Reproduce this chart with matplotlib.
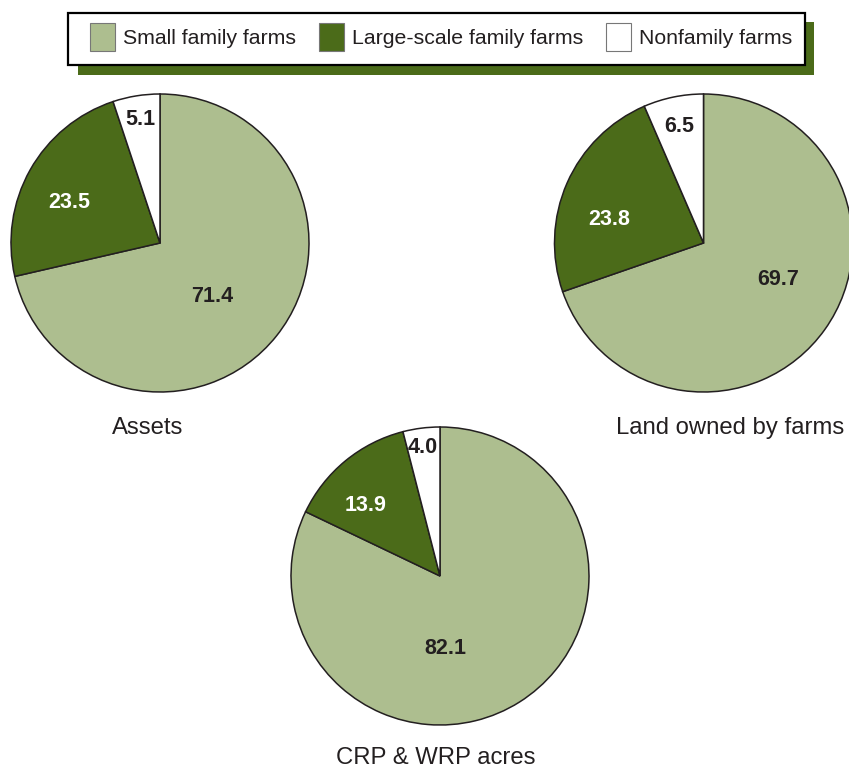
import numpy as np
import matplotlib
matplotlib.use("Agg")
import matplotlib.pyplot as plt
from matplotlib.patches import Rectangle

plt.rcParams['font.family'] = ['Liberation Sans', 'DejaVu Sans']

# ---- data ----
categories = ["Small family farms", "Large-scale family farms", "Nonfamily farms"]
assets = [71.4, 23.5, 5.1]
land = [69.7, 23.8, 6.5]
crp_wrp = [82.1, 13.9, 4.0]
pie_titles = ["Assets", "Land owned by farms", "CRP & WRP acres"]

# ---- styles ----
colors = ["#adbe8f", "#4b6b19", "#ffffff"]
label_colors = ["#231f20", "#ffffff", "#231f20"]
edge = "#231f20"
W, H = 849, 769
R = 149  # pie radius in pixels

# pie centers (px), label radial factor and angle tweak per wedge, title positions (px)
layout = [
    dict(center=(160, 243), rf=[0.50, 0.67, 0.84], dang=[-7.5, 5.3, 0.0], title=(147.5, 428)),
    dict(center=(703.5, 243), rf=[0.56, 0.65, 0.80], dang=[9.5, 10.0, 0.0], title=(730.5, 428)),
    dict(center=(440, 576), rf=[0.49, 0.69, 0.87], dang=[-27.7, 7.0, 0.5], title=(436, 758)),
]

fig = plt.figure(figsize=(W / 100, H / 100), dpi=100)

for vals, title, lay in zip([assets, land, crp_wrp], pie_titles, layout):
    cx, cy = lay["center"]
    ax = fig.add_axes([(cx - R) / W, (H - cy - R) / H, 2 * R / W, 2 * R / H])
    ax.pie(vals, colors=colors, startangle=90, counterclock=False, radius=1,
           wedgeprops=dict(edgecolor=edge, linewidth=1.1))
    ax.set_xlim(-1, 1)
    ax.set_ylim(-1, 1)
    ax.set_aspect("equal")
    ax.axis("off")
    cum = 0.0
    total = sum(vals)
    for i, v in enumerate(vals):
        mid = 90 - (cum + v / 2) / total * 360 + lay["dang"][i]
        cum += v
        r = lay["rf"][i]
        ax.text(r * np.cos(np.radians(mid)), r * np.sin(np.radians(mid)), f"{v:.1f}",
                ha="center", va="center", fontsize=15.5, fontweight="bold",
                color=label_colors[i])
    tx, ty = lay["title"]
    fig.text(tx / W, (H - ty) / H, title, ha="center", va="center",
             fontsize=17.2, color="#231f20")

# ---- legend ----
handles = [Rectangle((0, 0), 1, 1, facecolor=c, edgecolor="#777777", linewidth=0.8) for c in colors]
leg = fig.legend(handles, categories, loc="center", bbox_to_anchor=(441 / W, (H - 37) / H),
                 ncol=3, fontsize=15.3, frameon=False,
                 handlelength=1.17, handleheight=1.72, handletextpad=0.37,
                 columnspacing=1.08, borderpad=0.0, borderaxespad=0.0, labelcolor="#231f20")
leg.set_zorder(6)

fig.canvas.draw()
bb = leg.get_window_extent()
pad_l, pad_r, pad_t, pad_b = 22, 13, 10, 14
fx0, fx1 = bb.x0 - pad_l, bb.x1 + pad_r
fy0, fy1 = bb.y0 - pad_b, bb.y1 + pad_t
off = 9.5
shadow = Rectangle(((fx0 + off) / W, (fy0 - off) / H), (fx1 - fx0) / W, (fy1 - fy0) / H,
                   transform=fig.transFigure, facecolor="#4b6b19", edgecolor="none", zorder=4)
frame = Rectangle((fx0 / W, fy0 / H), (fx1 - fx0) / W, (fy1 - fy0) / H,
                  transform=fig.transFigure, facecolor="white", edgecolor="black",
                  linewidth=1.6, zorder=5)
fig.add_artist(shadow)
fig.add_artist(frame)

fig.savefig("out.png", dpi=100)
